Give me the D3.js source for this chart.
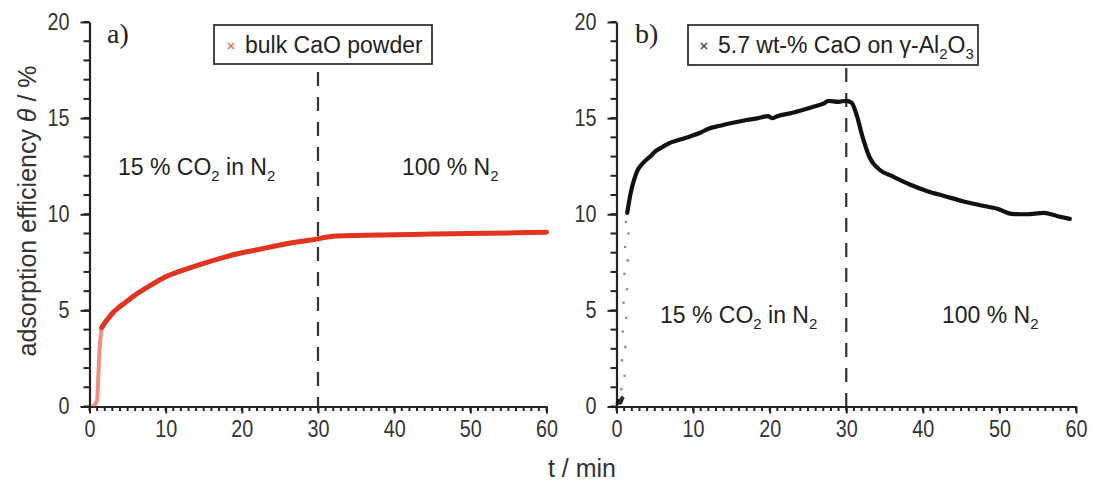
<!DOCTYPE html>
<html>
<head>
<meta charset="utf-8">
<script src="https://cdn.jsdelivr.net/npm/d3@7"></script>
<style>
  html, body { margin: 0; padding: 0; background: #fff; }
  svg { display: block; }
</style>
</head>
<body>
<svg id="chart" width="1093" height="482"></svg>
<script>
// ---------- data ----------
const tTicks = [0, 10, 20, 30, 40, 50, 60];
const yTicks = [0, 5, 10, 15, 20];
const tMinorTicks = d3.range(0, 61, 1);
const yMinorTicks = d3.range(0, 21, 1);
const panelLabels = ["a)", "b)"];
const legendLabels = ["bulk CaO powder", "5.7 wt-% CaO on γ-Al2O3"];
const switchTime = 30;

// a) bulk CaO powder
const bulkStartT     = [0.4, 0.7, 1.0, 1.15, 1.3, 1.45, 1.6];
const bulkStartTheta = [0.0, 0.1, 0.3, 1.5, 2.8, 3.6, 4.1];
const bulkT     = [1.6, 2.0, 2.5, 3, 4, 5, 6, 8, 10, 12, 15, 18, 20, 22, 25, 28, 30, 31, 32, 35, 40, 45, 50, 55, 60];
const bulkTheta = [4.1, 4.35, 4.6, 4.85, 5.2, 5.5, 5.8, 6.3, 6.75, 7.05, 7.45, 7.8, 8.0, 8.15, 8.4, 8.6, 8.72, 8.8, 8.85, 8.9, 8.93, 8.97, 9.0, 9.03, 9.06];

// b) 5.7 wt-% CaO on gamma-Al2O3
const supStartT     = [0.1, 0.3, 0.5, 0.7, 0.9];
const supStartTheta = [0.1, 0.3, 0.2, 0.4, 0.5];
const supRiseT      = [0.75, 0.8, 0.85, 0.9, 0.95, 1.0, 1.05, 1.1, 1.15, 1.2, 1.25, 1.3, 1.35];
const supRiseTheta  = [0.9, 1.6, 2.4, 3.1, 3.9, 4.6, 5.4, 6.1, 6.9, 7.6, 8.3, 9.0, 9.6];
const supT     = [1.4, 1.85, 2.3, 2.77, 3.2, 3.7, 4.4, 5.1, 6, 6.9, 8, 9.7, 11, 12, 13.5, 15.2, 17, 18.5, 19.8, 20.3, 21, 23, 24.5, 25.8, 27, 27.7, 29, 30, 30.7, 31.4, 32.1, 33, 34.4, 36, 38.3, 40.6, 42.9, 45.2, 47.5, 49.8, 51.6, 53.5, 55.8, 57.6, 59.2];
const supTheta = [10.07, 11.1, 11.8, 12.3, 12.55, 12.76, 13.0, 13.28, 13.5, 13.7, 13.85, 14.06, 14.25, 14.45, 14.6, 14.76, 14.9, 15.0, 15.1, 15.0, 15.1, 15.28, 15.45, 15.6, 15.75, 15.9, 15.85, 15.9, 15.8, 15.1, 14.06, 13.0, 12.3, 11.98, 11.55, 11.2, 10.94, 10.68, 10.47, 10.28, 10.02, 10.0, 10.07, 9.9, 9.76];

// ---------- drawing ----------
const FONT = "'Liberation Sans', Arial, sans-serif";
const svg = d3.select("#chart");
const zip = (a, b) => a.map((v, i) => [v, b[i]]);
const SX = 0.86; // horizontal squeeze of tick labels

const panels = [
  { x0: 89.5, x1: 546.5, label: panelLabels[0], labelX: 107, color: "#e2331f", legend: legendLabels[0],
    legendBox: [214, 25, 218, 39], markerX: 231, textX: 245, dashTop: 72,
    start: zip(bulkStartT, bulkStartTheta), rise: [], main: zip(bulkT, bulkTheta),
    ann: [[118, 175], [402, 175]] },
  { x0: 616.5, x1: 1076, label: panelLabels[1], labelX: 635, color: "#111", legend: legendLabels[1],
    legendBox: [688, 25, 290, 40], markerX: 704, textX: 718, dashTop: 68,
    start: zip(supStartT, supStartTheta), rise: zip(supRiseT, supRiseTheta), main: zip(supT, supTheta),
    ann: [[660, 323], [942, 323]] }
];
const yTop = 22, yBot = 406.5;

panels.forEach((p, pi) => {
  const x = d3.scaleLinear().domain([0, 60]).range([p.x0, p.x1]);
  const y = d3.scaleLinear().domain([0, 20]).range([yBot, yTop]);
  const g = svg.append("g");

  // dashed switch line
  g.append("line")
    .attr("x1", x(switchTime)).attr("x2", x(switchTime))
    .attr("y1", p.dashTop).attr("y2", yBot)
    .attr("stroke", "#333").attr("stroke-width", 2.2)
    .attr("stroke-dasharray", "14,11");

  // minor ticks
  g.append("g").selectAll("rect").data(tMinorTicks).join("rect")
    .attr("x", d => x(d) - 1).attr("y", yBot).attr("width", 2).attr("height", 4.5)
    .attr("fill", "#222");
  g.append("g").selectAll("rect").data(yMinorTicks).join("rect")
    .attr("x", p.x0 - 6).attr("y", d => y(d) - 1).attr("width", 6).attr("height", 2)
    .attr("fill", "#222");

  // x axis
  const xa = g.append("g").attr("transform", `translate(0,${yBot})`)
    .call(d3.axisBottom(x).tickValues(tTicks).tickSize(7).tickSizeOuter(0).tickPadding(7));
  xa.select(".domain").attr("stroke", "#222").attr("stroke-width", 2.2);
  xa.selectAll(".tick line").attr("stroke", "#222").attr("stroke-width", 2);
  xa.selectAll("text").attr("font-family", FONT).attr("font-size", 23).attr("fill", "#333")
    .attr("transform", `scale(${SX},1)`);

  // y axis
  const ya = g.append("g").attr("transform", `translate(${p.x0},0)`)
    .call(d3.axisLeft(y).tickValues(yTicks).tickSize(9).tickSizeOuter(0).tickPadding(11));
  ya.select(".domain").attr("stroke", "#222").attr("stroke-width", 2.2);
  ya.selectAll(".tick line").attr("stroke", "#222").attr("stroke-width", 2);
  ya.selectAll("text").attr("font-family", FONT).attr("font-size", 23).attr("fill", "#333")
    .attr("x", -20 / SX).attr("transform", `scale(${SX},1)`);

  // data
  const line = d3.line().x(d => x(d[0])).y(d => y(d[1])).curve(d3.curveMonotoneX);
  g.append("path").datum(p.start).attr("d", line)
    .attr("fill", "none").attr("stroke", p.color).attr("stroke-width", 4)
    .attr("stroke-opacity", pi === 0 ? 0.55 : 0.9);
  g.selectAll("circle.rise").data(p.rise).join("circle").attr("class", "rise")
    .attr("cx", (d, i) => x(d[0]) + (i % 2 ? 2 : -1)).attr("cy", d => y(d[1]))
    .attr("r", 1.3).attr("fill", "#888");
  g.append("path").datum(p.main).attr("d", line)
    .attr("fill", "none").attr("stroke", p.color).attr("stroke-width", pi === 0 ? 5 : 4.2)
    .attr("stroke-linejoin", "round").attr("stroke-linecap", "round");

  // panel label
  g.append("text").attr("x", p.labelX).attr("y", 43)
    .attr("font-family", "'Liberation Serif', 'Times New Roman', serif").attr("font-size", 28)
    .attr("fill", "#222").text(p.label);

  // legend
  const [lx, ly, lw, lh] = p.legendBox;
  g.append("rect").attr("x", lx).attr("y", ly).attr("width", lw).attr("height", lh)
    .attr("fill", "#fff").attr("stroke", "#333").attr("stroke-width", 1.8);
  const mx = p.markerX, my = ly + 21;
  g.append("path").attr("d", `M${mx-3},${my-3}L${mx+3},${my+3}M${mx-3},${my+3}L${mx+3},${my-3}`)
    .attr("stroke", pi === 0 ? "#e86a5a" : "#444").attr("stroke-width", 1.5);
  const lt = g.append("text").attr("x", p.textX).attr("y", ly + 28)
    .attr("font-family", FONT).attr("font-size", 23).attr("fill", "#222");
  if (pi === 0) {
    lt.text(p.legend);
  } else {
    lt.append("tspan").text("5.7 wt-% CaO on γ-Al");
    lt.append("tspan").attr("dy", 6).attr("font-size", 15).text("2");
    lt.append("tspan").attr("dy", -6).text("O");
    lt.append("tspan").attr("dy", 6).attr("font-size", 15).text("3");
  }

  // annotations
  const a1 = g.append("text").attr("x", p.ann[0][0]).attr("y", p.ann[0][1])
    .attr("font-family", FONT).attr("font-size", 23).attr("fill", "#222");
  a1.append("tspan").text("15 % CO");
  a1.append("tspan").attr("dy", 6).attr("font-size", 15).text("2");
  a1.append("tspan").attr("dy", -6).text(" in N");
  a1.append("tspan").attr("dy", 6).attr("font-size", 15).text("2");
  const a2 = g.append("text").attr("x", p.ann[1][0]).attr("y", p.ann[1][1])
    .attr("font-family", FONT).attr("font-size", 23).attr("fill", "#222");
  a2.append("tspan").text("100 % N");
  a2.append("tspan").attr("dy", 6).attr("font-size", 15).text("2");
});

// axis titles
const yl = svg.append("text")
  .attr("transform", "translate(36,211) rotate(-90)")
  .attr("text-anchor", "middle")
  .attr("font-family", FONT).attr("font-size", 25).attr("fill", "#333");
yl.append("tspan").text("adsorption efficiency ");
yl.append("tspan").attr("font-style", "italic").text("θ");
yl.append("tspan").text(" / %");

svg.append("text").attr("x", 582).attr("y", 477).attr("text-anchor", "middle")
  .attr("font-family", FONT).attr("font-size", 25).attr("fill", "#333").text("t / min");
</script>
</body>
</html>
